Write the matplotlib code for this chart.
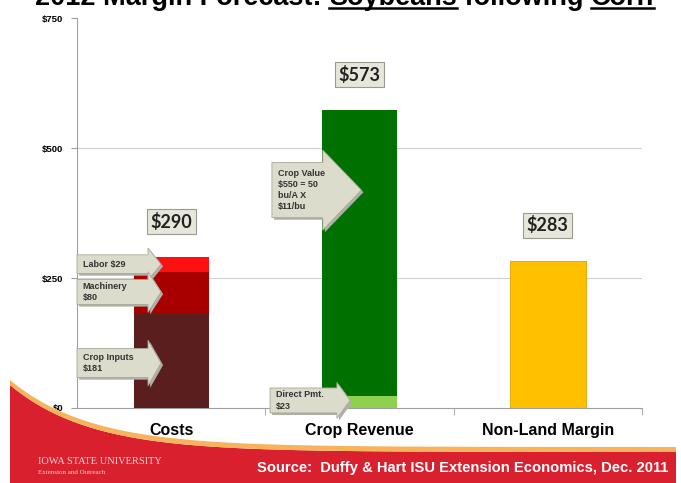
import numpy as np
import matplotlib.pyplot as plt
from matplotlib.patches import Polygon
from matplotlib import transforms

# data
categories = ["Costs", "Crop Revenue", "Non-Land Margin"]
cost_parts = [181, 80, 29]          # crop inputs, machinery, labor
cost_labels = ["Crop Inputs\n$181", "Machinery\n$80", "Labor $29"]
revenue_parts = [23, 550]           # direct payment, crop value
revenue_labels = ["Direct Pmt.\n$23", "Crop Value\n$550 = 50\nbu/A X\n$11/bu"]
margin = 283
totals = [290, 573, 283]
yticks = [0, 250, 500, 750]
ytick_labels = ["$0", "$250", "$500", "$750"]

arial = ["Liberation Sans", "DejaVu Sans"]

fig = plt.figure(figsize=(6.81, 4.83), dpi=100)
W, H = 681, 483

# ---- red swoosh background (decoration) ----
xs = np.linspace(10, 676, 200)
top = 452 - 67 * np.exp(-(xs - 10) / 80)
red = np.column_stack([np.r_[xs, 676, 10], np.r_[top, 483, 483]])
red[:, 0] /= W
red[:, 1] = 1 - red[:, 1] / H
fig.patches.append(Polygon(red, closed=True, transform=fig.transFigure,
                           facecolor="#d8202f", edgecolor="none", zorder=0))
band = np.column_stack([np.r_[xs, xs[::-1]], np.r_[top - 5, top[::-1]]])
band[:, 0] /= W
band[:, 1] = 1 - band[:, 1] / H
fig.patches.append(Polygon(band, closed=True, transform=fig.transFigure,
                           facecolor="#f6b35c", edgecolor="none", zorder=0))

ax = fig.add_axes([77 / W, 1 - 408 / H, (642 - 77) / W, 390 / H])
ax.patch.set_visible(False)

x = np.arange(len(categories))
bw = 0.4

# stacked cost bar
cost_colors = ["#5a1e1e", "#a80000", "#ff1010"]
bottom = 0
for v, c in zip(cost_parts, cost_colors):
    ax.bar(x[0], v, bw, bottom=bottom, color=c, zorder=3)
    bottom += v

rev_colors = ["#8fd14f", "#007000"]
bottom = 0
for v, c in zip(revenue_parts, rev_colors):
    ax.bar(x[1], v, bw, bottom=bottom, color=c, zorder=3)
    bottom += v

ax.bar(x[2], margin, bw, color="#ffc000", edgecolor="#e0a000", linewidth=0.6, zorder=3)

# totals
for xi, t in zip(x, totals):
    ax.text(xi, t + 68, f"\\${t}", ha="center", va="center", fontsize=13,
            family=["Lato", "DejaVu Sans"], fontweight="bold", color="#222222",
            bbox=dict(boxstyle="square,pad=0.2", facecolor="#e6e6da",
                      edgecolor="#9a9a90", linewidth=0.8), zorder=6)


def callout(x0, x1, tip, yc, h, hh, text):
    pts = [(x0, yc - h / 2), (x1, yc - h / 2), (x1, yc - hh / 2), (tip, yc),
           (x1, yc + hh / 2), (x1, yc + h / 2), (x0, yc + h / 2)]
    sh = transforms.offset_copy(ax.transData, fig=fig, x=1.5, y=-1.5, units="points")
    ax.add_patch(Polygon(pts, closed=True, facecolor="#b0b0a8", edgecolor="none",
                         transform=sh, zorder=4, clip_on=False))
    ax.add_patch(Polygon(pts, closed=True, facecolor="#dcdccd", edgecolor="#a8a898",
                         linewidth=0.6, zorder=5, clip_on=False))
    ax.text(x0 + 0.03, yc, text, ha="left", va="center", fontsize=6.5,
            fontweight="bold", family=arial, color="#333333", zorder=6,
            linespacing=1.3)


left0 = x[0] - bw / 2
cost_mid = np.cumsum(cost_parts) - np.array(cost_parts) / 2
callout(-0.5, left0 + 0.077, left0 + 0.146, cost_mid[2] + 1, 36, 62, cost_labels[2])
callout(-0.5, left0 + 0.077, left0 + 0.146, cost_mid[1] + 2, 48, 78, cost_labels[1])
callout(-0.5, left0 + 0.077, left0 + 0.146, cost_mid[0] - 4, 56, 88, cost_labels[0])

left1 = x[1] - bw / 2
callout(left1 - 0.265, left1 + 0.005, left1 + 0.21, 419, 106, 154, revenue_labels[1])
callout(left1 - 0.275, left1 + 0.08, left1 + 0.15, revenue_parts[0] / 2 + 3, 48, 69,
        revenue_labels[0])

# axes styling
ax.set_xlim(-0.5, 2.5)
ax.set_ylim(0, 750)
ax.set_yticks(yticks)
ax.set_yticklabels(ytick_labels, family=arial, fontweight="bold", fontsize=6.8)
ax.set_xticks(x)
ax.set_xticklabels(categories, family=arial, fontweight="bold", fontsize=11.5)
ax.set_xticks([0.5, 1.5, 2.5], minor=True)
ax.tick_params(axis="x", which="major", length=0, pad=11)
ax.tick_params(axis="x", which="minor", length=5, color="#a0a0a0")
ax.tick_params(axis="y", length=4, color="#a0a0a0", pad=6)
for s in ["top", "right"]:
    ax.spines[s].set_visible(False)
for s in ["left", "bottom"]:
    ax.spines[s].set_color("#a0a0a0")
ax.yaxis.grid(True, color="#d0d0d0", linewidth=0.8, zorder=0)
ax.set_axisbelow(True)
gl = ax.get_ygridlines()
gl[0].set_visible(False)
gl[-1].set_visible(False)

# title at the top, cut by the frame as in the source slide, with underlined words
renderer = fig.canvas.get_renderer()
parts = [("2012 Margin Forecast: ", False), ("Soybeans", True),
         (" following ", False), ("Corn", True)]
tx = 35 / W
ty = 1 - 5 / H
for s, under in parts:
    t = fig.text(tx, ty, s, ha="left", va="baseline", fontsize=19.5,
                 fontweight="bold", family=arial, color="black")
    bb = t.get_window_extent(renderer)
    if under:
        fig.add_artist(plt.Line2D([bb.x0 / W, bb.x1 / W], [1 - 8 / H, 1 - 8 / H],
                                  transform=fig.transFigure, color="black", linewidth=1.8))
    tx = bb.x1 / W

# footer
fig.text(38 / W, 1 - 462 / H, "IOWA STATE UNIVERSITY", fontsize=7.5,
         family=["Liberation Serif", "DejaVu Serif"], color="#f6d0d0", va="center")
fig.text(38 / W, 1 - 473 / H, "Extension and Outreach", fontsize=5,
         family=["Liberation Serif", "DejaVu Serif"], color="#f6d0d0", va="center")
fig.text(668 / W, 1 - 468 / H, "Source:  Duffy & Hart ISU Extension Economics, Dec. 2011",
         fontsize=10.6, fontweight="bold", family=arial, color="white",
         ha="right", va="center")

fig.savefig("out.png", dpi=100)
